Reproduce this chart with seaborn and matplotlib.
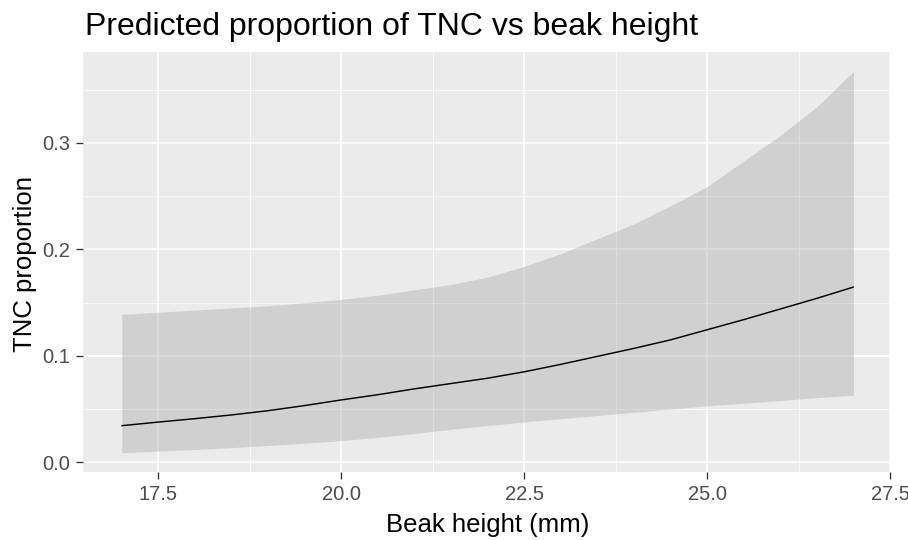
import matplotlib
matplotlib.use("Agg")
import matplotlib.pyplot as plt
import seaborn as sns
import pandas as pd
from matplotlib.ticker import MultipleLocator

beak_height = [17.0, 17.5, 18.0, 18.5, 19.0, 19.5, 20.0, 20.5, 21.0, 21.5, 22.0,
               22.5, 23.0, 23.5, 24.0, 24.5, 25.0, 25.5, 26.0, 26.5, 27.0]
pred = [0.0344, 0.0378, 0.041, 0.0445, 0.0485, 0.0533, 0.0586, 0.0635, 0.069, 0.074, 0.079,
        0.085, 0.092, 0.0995, 0.107, 0.115, 0.1245, 0.134, 0.144, 0.154, 0.1646]
upper = [0.139, 0.141, 0.143, 0.145, 0.147, 0.150, 0.153, 0.157, 0.162, 0.167, 0.174,
         0.184, 0.196, 0.210, 0.224, 0.241, 0.259, 0.283, 0.307, 0.334, 0.367]
lower = [0.009, 0.0105, 0.012, 0.0138, 0.0158, 0.018, 0.0203, 0.0235, 0.027, 0.031, 0.0345,
         0.038, 0.041, 0.044, 0.047, 0.050, 0.053, 0.0555, 0.058, 0.0608, 0.063]
x_ticks = [17.5, 20.0, 22.5, 25.0, 27.5]
y_ticks = [0.0, 0.1, 0.2, 0.3]

df = pd.DataFrame({"x": beak_height, "y": pred, "lo": lower, "hi": upper})

sns.set_theme(style="darkgrid", rc={
    "axes.facecolor": "#EBEBEB",
    "grid.color": "white",
    "axes.edgecolor": "#EBEBEB",
})
plt.rcParams["font.family"] = ["Liberation Sans", "DejaVu Sans"]

fig = plt.figure(figsize=(9.08, 5.40), dpi=100)
ax = fig.add_axes([83/908, 1-472/540, (890-83)/908, (472-52)/540])

ax.fill_between(df["x"], df["lo"], df["hi"], color="#999999", alpha=0.33, linewidth=0, zorder=2)
sns.lineplot(data=df, x="x", y="y", ax=ax, color="black", linewidth=1.05, zorder=3)

ax.set_xlim(16.47, 27.5)
ax.set_ylim(-0.0091, 0.3854)
ax.xaxis.set_minor_locator(MultipleLocator(1.25))
ax.yaxis.set_minor_locator(MultipleLocator(0.05))
ax.set_xticks(x_ticks)
ax.set_xticklabels([f"{v:.1f}" for v in x_ticks])
ax.set_yticks(y_ticks)
ax.set_yticklabels([f"{v:.1f}" for v in y_ticks])

ax.grid(which="major", color="white", linewidth=1.1)
ax.grid(which="minor", color="white", linewidth=0.55)
ax.set_axisbelow(True)
for s in ax.spines.values():
    s.set_visible(False)

ax.tick_params(axis="both", which="major", length=4.7, width=0.95, color="#333333",
               labelsize=14.5, labelcolor="#4D4D4D", pad=4.3, bottom=True, left=True)
ax.tick_params(axis="both", which="minor", length=0)

ax.set_xlabel("Beak height (mm)", fontsize=18.5, color="black")
ax.set_ylabel("TNC proportion", fontsize=18.5, color="black")
ax.xaxis.label.set_va("baseline")
ax.xaxis.set_label_coords(0.502, (472 - 531.7) / 420)
ax.yaxis.label.set_va("baseline")
ax.yaxis.set_label_coords((32.3 - 83) / 807, 0.496)

fig.text(85/908, 1-35/540, "Predicted proportion of TNC vs beak height",
         fontsize=23, color="black", ha="left", va="baseline")

fig.savefig("out.png", dpi=100)
